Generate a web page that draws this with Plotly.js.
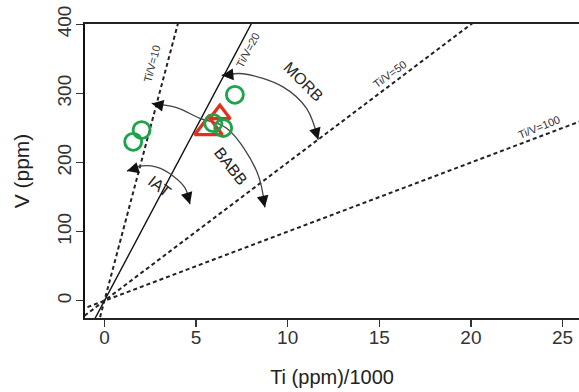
<!DOCTYPE html>
<html>
<head>
<meta charset="utf-8">
<script src="https://cdn.plot.ly/plotly-3.0.1.min.js"></script>
<style>html,body{margin:0;padding:0;background:#fff;}#chart{width:579px;height:392px;}</style>
</head>
<body>
<div id="chart"></div>
<script>
// Reference lines Ti/V ratios
const ratios = [10, 20, 50, 100];
const ratioLabels = ['Ti/V=10', 'Ti/V=20', 'Ti/V=50', 'Ti/V=100'];
const ratioLabelX = [2.58, 7.83, 15.58, 23.72];
const ratioLabelY = [342.9, 362.6, 327.7, 252];
const ratioLabelAngle = [-75, -62, -36, -22];
const lineX = [-2, 30];

// Samples (green circles)
const circleTi = [7.12, 5.94, 6.48, 2.03, 1.57];
const circleV = [298, 257, 250, 247, 230];

// Samples (red triangles)
const triTi = [5.68, 6.30];
const triV = [249, 270];
const triSize = [24, 18];

// Field arcs
const morbX = [6.40, 7.56, 9.74, 11.04, 11.67];
const morbY = [326, 328.5, 309.5, 278, 233];
const babbX = [2.58, 3.94, 5.21, 6.67, 8.31, 8.76];
const babbY = [285.5, 279.3, 264, 249.6, 187.5, 135];
const iatX = [1.23, 1.94, 2.85, 3.76, 4.39, 4.67];
const iatY = [187.6, 194.7, 193.3, 180.3, 163.6, 139.7];

// Field labels
const fieldNames = ['MORB', 'BABB', 'IAT'];
const fieldX = [10.84, 6.9, 3.03];
const fieldY = [316.6, 194, 166];
const fieldAngle = [45, 52, 38];

// Arrow tail offsets (px) for arc ends: [start, end]
const arrowTails = {
  MORB: [[10, -1], [-3, -10]],
  BABB: [[10, 2], [-2, -10]],
  IAT: [[10, -3], [-3, -10]]
};

const FONT = 'Arial, "Liberation Sans", sans-serif';
const traces = [];

ratios.forEach((r, i) => {
  traces.push({
    x: lineX, y: lineX.map(v => v * 1000 / r),
    mode: 'lines', hoverinfo: 'skip', showlegend: false,
    line: {color: r === 20 ? '#111' : '#222', width: r === 20 ? 1.4 : 2, dash: r === 20 ? 'solid' : '4px,3px'}
  });
});

const arcs = [[morbX, morbY], [babbX, babbY], [iatX, iatY]];
arcs.forEach(a => {
  traces.push({
    x: a[0], y: a[1], mode: 'lines', hoverinfo: 'skip', showlegend: false,
    line: {color: '#444', width: 1.3, shape: 'spline'}
  });
});

traces.push({
  x: triTi, y: triV, mode: 'markers', showlegend: false,
  marker: {symbol: 'triangle-up-open', size: triSize, color: '#e0301e', opacity: 1, line: {width: 3.2, color: '#e0301e'}}
});
traces.push({
  x: circleTi, y: circleV, mode: 'markers', showlegend: false,
  marker: {symbol: 'circle-open', size: 17, color: '#1fa34a', opacity: 1, line: {width: 2.8, color: '#1fa34a'}}
});

const annotations = [];
ratioLabels.forEach((t, i) => {
  annotations.push({x: ratioLabelX[i], y: ratioLabelY[i], xref: 'x', yref: 'y', text: t,
    showarrow: false, textangle: ratioLabelAngle[i], font: {family: FONT, size: 11, color: '#333'}});
});
fieldNames.forEach((t, i) => {
  annotations.push({x: fieldX[i], y: fieldY[i], xref: 'x', yref: 'y', text: t,
    showarrow: false, textangle: fieldAngle[i], font: {family: FONT, size: 16, color: '#222'}});
});
[['MORB', morbX, morbY], ['BABB', babbX, babbY], ['IAT', iatX, iatY]].forEach(([n, xs, ys]) => {
  const tails = arrowTails[n];
  const ends = [[xs[0], ys[0]], [xs[xs.length - 1], ys[ys.length - 1]]];
  ends.forEach((e, k) => {
    annotations.push({x: e[0], y: e[1], xref: 'x', yref: 'y', text: '', showarrow: true,
      ax: tails[k][0], ay: tails[k][1], arrowhead: 2, arrowsize: 1.8, arrowwidth: 1.3,
      arrowcolor: '#111', standoff: 0});
  });
});

const layout = {
  width: 579, height: 392,
  margin: {l: 85, r: 0, t: 24, b: 74},
  paper_bgcolor: '#fff', plot_bgcolor: '#fff',
  showlegend: false,
  font: {family: FONT},
  xaxis: {
    range: [-1.06, 25.9], tickvals: [0, 5, 10, 15, 20, 25], ticks: 'outside', ticklen: 7,
    tickwidth: 1.3, tickcolor: '#333', showline: true, linewidth: 2, linecolor: '#222', mirror: true,
    showgrid: false, zeroline: false, tickfont: {family: FONT, size: 19, color: '#333'},
    ticklabelstandoff: -6,
    title: {text: 'Ti (ppm)/1000', font: {family: FONT, size: 20, color: '#222'}, standoff: 23}
  },
  yaxis: {
    range: [-25, 400.5], tickvals: [0, 100, 200, 300, 400], tickangle: -90, ticks: 'outside', ticklen: 7,
    tickwidth: 1.3, tickcolor: '#333', showline: true, linewidth: 2.5, linecolor: '#111',
    showgrid: false, zeroline: false, tickfont: {family: FONT, size: 19, color: '#333'},
    ticklabelstandoff: -3,
    title: {text: 'V (ppm)', font: {family: FONT, size: 21, color: '#222'}, standoff: 19}
  },
  annotations: annotations
};

Plotly.newPlot('chart', traces, layout, {displayModeBar: false, staticPlot: true});
</script>
</body>
</html>
